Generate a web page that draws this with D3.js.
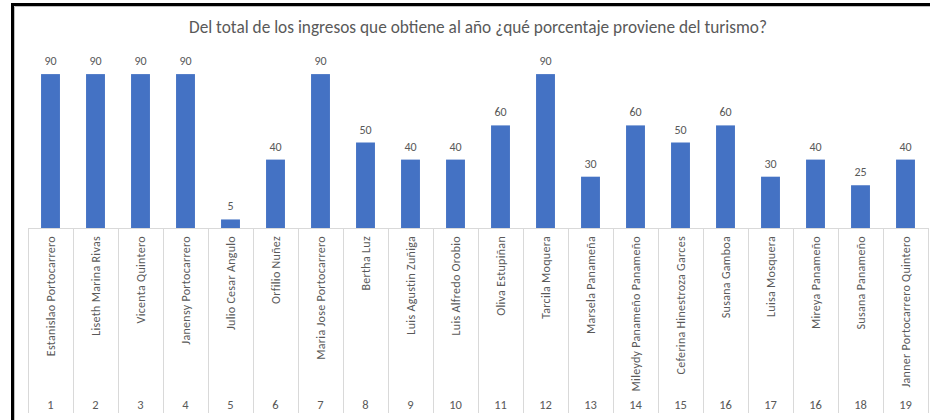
<!DOCTYPE html>
<html>
<head>
<meta charset="utf-8">
<script src="https://cdn.jsdelivr.net/npm/d3@7"></script>
<style>
  body { margin: 0; background: #fff; }
  svg text { font-family: Carlito, Calibri, Lato, "Liberation Sans", sans-serif; fill: #595959; }
</style>
</head>
<body>
<div id="chart"></div>
<script>
// data
const names = ["Estanislao Portocarrero", "Liseth Marina Rivas", "Vicenta Quintero", "Janensy Portocarrero",
  "Julio Cesar Angulo", "Orfilio Nuñez", "Maria Jose Portocarrero", "Bertha Luz", "Luis Agustin Zuñiga",
  "Luis Alfredo Orobio", "Oliva  Estupiñan", "Tarcila Moquera", "Marsela  Panameña", "Mileydy Panameño Panameño",
  "Ceferina Hinestroza Garces", "Susana  Gamboa", "Luisa Mosquera", "Mireya  Panameño", "Susana  Panameño",
  "Janner Portocarrero Quintero"];
const numbers = ["1", "2", "3", "4", "5", "6", "7", "8", "9", "10", "11", "12", "13", "14", "15", "16", "17", "16", "18", "19"];
const values = [90, 90, 90, 90, 5, 40, 90, 50, 40, 40, 60, 90, 30, 60, 50, 60, 30, 40, 25, 40];
const title = "Del total de los ingresos que obtiene al año ¿qué porcentaje proviene del turismo?";

const W = 930, H = 420;
let margin = { top: 57, left: 28, right: 2, bottom: 192 };
const baseY = H - margin.bottom;   // 228

const svg = d3.select("#chart").append("svg")
  .attr("width", W)
  .attr("height", H);

// outer frame (cut off on right and bottom)
svg.append("line").attr("x1", 12).attr("x2", W).attr("y1", 4.5).attr("y2", 4.5)
  .attr("stroke", "#000").attr("stroke-width", 3);
svg.append("line").attr("x1", 12.5).attr("x2", 12.5).attr("y1", 3).attr("y2", H)
  .attr("stroke", "#000").attr("stroke-width", 3);
svg.append("line").attr("x1", 14.5).attr("x2", W).attr("y1", 6.5).attr("y2", 6.5)
  .attr("stroke", "#bfbfbf").attr("stroke-width", 1);
svg.append("line").attr("x1", 14.5).attr("x2", 14.5).attr("y1", 6.5).attr("y2", H)
  .attr("stroke", "#bfbfbf").attr("stroke-width", 1);

svg.append("text")
  .attr("x", 478).attr("y", 33)
  .attr("text-anchor", "middle")
  .style("font-size", "17.3px")
  .text(title);

const idx = d3.range(values.length);
const x = d3.scaleBand()
  .domain(idx)
  .range([margin.left, W - margin.right])
  .paddingInner(0.58)
  .paddingOuter(0.29);

const y = d3.scaleLinear()
  .domain([0, 100])
  .range([baseY, margin.top]);

// bars
svg.append("g").selectAll("rect")
  .data(idx)
  .enter().append("rect")
  .attr("x", i => x(i))
  .attr("width", x.bandwidth())
  .attr("y", i => y(values[i]))
  .attr("height", i => baseY - y(values[i]))
  .attr("fill", "#4472C4");

// value labels
svg.append("g").selectAll("text")
  .data(idx)
  .enter().append("text")
  .attr("x", i => x(i) + x.bandwidth() / 2)
  .attr("y", i => y(values[i]) - 9)
  .attr("text-anchor", "middle")
  .style("font-size", "12px")
  .text(i => values[i]);

// category grid (multi-level axis look)
const step = x.step();
const grid = svg.append("g").attr("stroke", "#d9d9d9").attr("stroke-width", 1);
grid.append("line")
  .attr("x1", margin.left).attr("x2", W - margin.right)
  .attr("y1", baseY + 0.5).attr("y2", baseY + 0.5);
grid.selectAll(".sep")
  .data(d3.range(values.length + 1))
  .enter().append("line")
  .attr("class", "sep")
  .attr("x1", i => Math.round(margin.left + i * step) + 0.5)
  .attr("x2", i => Math.round(margin.left + i * step) + 0.5)
  .attr("y1", baseY)
  .attr("y2", 413);

// rotated names
svg.append("g").selectAll("text")
  .data(idx)
  .enter().append("text")
  .attr("transform", i => `translate(${x(i) + x.bandwidth() / 2 + 4},236) rotate(-90)`)
  .attr("text-anchor", "end")
  .style("font-size", "12px")
  .style("letter-spacing", "0.3px")
  .text(i => names[i]);

// number row via axis
const axis = d3.axisBottom(x).tickSize(0).tickFormat(i => numbers[i]);
const ax = svg.append("g")
  .attr("transform", `translate(0,397)`)
  .call(axis);
ax.select(".domain").remove();
ax.selectAll("text")
  .style("font-size", "12.5px")
  .attr("fill", "#595959");
</script>
</body>
</html>
